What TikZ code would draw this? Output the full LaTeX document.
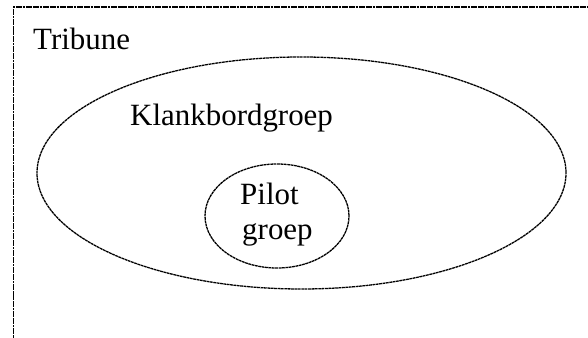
\documentclass[tikz,border=0pt]{standalone}
\usepackage{fontspec}
\setmainfont{Liberation Serif}
\usepackage{tikz}
\usetikzlibrary{shapes.geometric,positioning}
\tikzset{fine/.style={line width=1.1pt, dash pattern=on 2.4pt off 0.5pt}}
\tikzset{label/.style={inner sep=0pt, anchor=base west, font=\fontsize{26.4pt}{31pt}\selectfont}}

\begin{document}
\begin{tikzpicture}
	\useasboundingbox (0,0) rectangle (17.64,10.14);
	\clip (0,0) rectangle (17.64,10.14);
	\coordinate (tribune) at (0.99,8.64);
	\coordinate (klank) at (9.045,4.95);
	\coordinate (klanktext) at (3.9,6.36);
	\coordinate (pilot) at (8.31,3.66);
	\coordinate (pilottext) at (7.2,3.99);
	\coordinate (groeptext) at (7.26,2.94);
	% Tribune frame (runs off the page at right and bottom)
	\draw[fine] (0.405,-0.5) rectangle (18.5,9.93);
	% Ellipses
	\begin{scope}[every node/.style={draw, fine, ellipse, inner sep=0pt}]
	\node[name=klankbord, minimum width=15.87cm, minimum height=6.96cm] at (klank) {};
	\node[name=pilotgroep, minimum width=4.32cm, minimum height=3.12cm] at (pilot) {};
	\end{scope}
	% Texts
	\node[label, name=tribunelabel] at (tribune) {Tribune};
	\node[label, name=klanklabel] at (klanktext) {Klankbordgroep};
	\node[label, name=pilotlabel] at (pilottext) {Pilot};
	\node[label, name=groeplabel] at (groeptext) {groep};
\end{tikzpicture}
\end{document}
